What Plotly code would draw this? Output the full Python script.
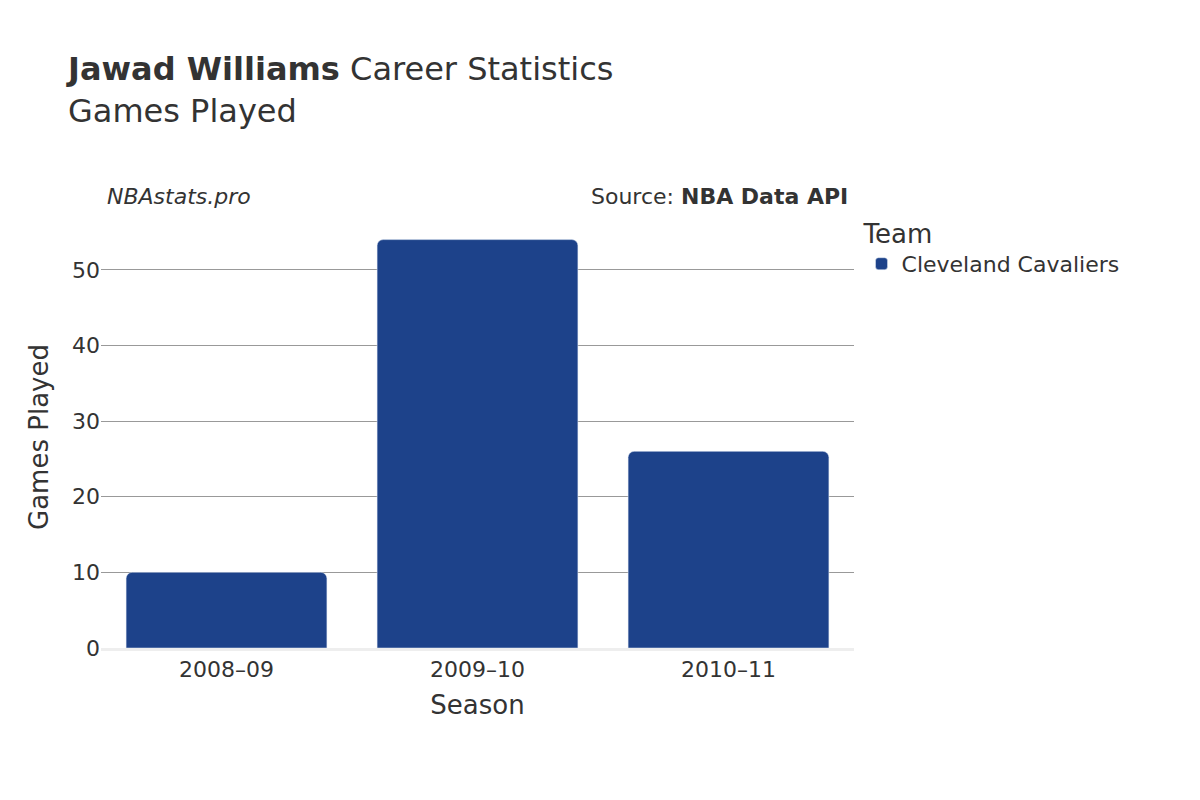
import plotly.graph_objects as go

seasons = ["2008–09", "2009–10", "2010–11"]
games = [10, 54, 26]
team = "Cleveland Cavaliers"

fig = go.Figure()
fig.add_trace(go.Bar(x=seasons, y=games, name=team, marker_color="#1d428a", showlegend=True))

fig.update_layout(
    width=1200, height=800,
    font=dict(family="DejaVu Sans", color="#333", size=20),
    plot_bgcolor="white", paper_bgcolor="white",
    margin=dict(l=93, r=354, t=218, b=160),
    barcornerradius=6, bargap=0.2,
    title=dict(text="<b>Jawad Williams</b> Career Statistics<br>Games Played", x=0.05, xanchor="left", y=0.91, yanchor="top", font=dict(size=32)),
    legend=dict(title=dict(text="Team", font=dict(size=26)), x=1.01, y=1.04, yanchor="top", font=dict(size=22)),
    xaxis=dict(title=dict(text="Season", font=dict(size=26)), tickfont=dict(size=22), showline=True, linecolor="#eee", linewidth=3),
    yaxis=dict(title=dict(text="Games Played", font=dict(size=26)), tickfont=dict(size=22), range=[0, 55.8], dtick=10, gridcolor="#999", zeroline=False),
    annotations=[
        dict(text="<i>NBAstats.pro</i>", xref="paper", yref="paper", x=0.005, y=1.07, xanchor="left", yanchor="middle", showarrow=False, font=dict(size=22)),
        dict(text="Source: <b>NBA Data API</b>", xref="paper", yref="paper", x=0.995, y=1.07, xanchor="right", yanchor="middle", showarrow=False, font=dict(size=22)),
    ],
)
fig.write_html("out.html")
